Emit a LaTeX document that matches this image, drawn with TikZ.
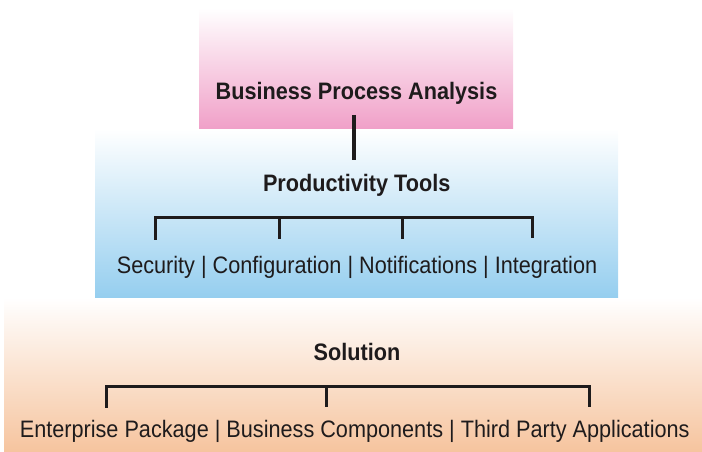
\documentclass[tikz,border=0pt]{standalone}
\usepackage{fontspec}
\setmainfont[FakeStretch=0.91]{Liberation Sans}
\definecolor{pinkC}{RGB}{240,160,200}
\definecolor{blueC}{RGB}{149,206,239}
\definecolor{orangeC}{RGB}{246,196,158}
\definecolor{inkC}{RGB}{30,27,28}
\pgfdeclareverticalshading{pinkfade}{100bp}{color(0bp)=(pinkC); color(25bp)=(pinkC); color(75bp)=(white); color(100bp)=(white)}
\pgfdeclareverticalshading{bluefade}{100bp}{color(0bp)=(blueC); color(25bp)=(blueC); color(75bp)=(white); color(100bp)=(white)}
\pgfdeclareverticalshading{orangefade}{100bp}{color(0bp)=(orangeC); color(25bp)=(orangeC); color(75bp)=(white); color(100bp)=(white)}
\begin{document}
\begin{tikzpicture}[x=1pt,y=1pt,
  lbl/.style={inner sep=0pt, anchor=base, text=inkC, font=\fontsize{23.8}{28}\selectfont},
  title/.style={lbl, font=\fontsize{23.8}{28}\selectfont\bfseries},
  link/.style={draw=inkC, line width=3pt, line cap=butt, line join=miter}]
\useasboundingbox (0,0) rectangle (702,452);
% panels
\shade[shading=orangefade] (4,0) rectangle (702,154.3);
\shade[shading=bluefade] (95,154.3) rectangle (618,323.5);
\shade[shading=pinkfade] (199,323.5) rectangle (513,444);
% texts
\node[title] (bpa) at (356.5,352) {Business Process Analysis};
\node[title] (pt) at (356.7,260.3) {Productivity Tools};
\node[lbl] (ptitems) at (357,178) {Security | Configuration | Notifications | Integration};
\node[title] (sol) at (357,91) {Solution};
\node[lbl] (solitems) at (354.7,14.3) {Enterprise Package | Business Components | Third Party Applications};
% connector from Business Process Analysis to Productivity Tools
\coordinate (bpaDown) at (353.8,337);
\coordinate (ptUp) at (353.8,292);
\draw[link, line width=3.5pt] (bpaDown) -- (ptUp);
% Productivity Tools bracket
\coordinate (pa1) at (155,212); \coordinate (pb1) at (155,234.7);
\coordinate (pa2) at (279,213); \coordinate (pb2) at (279,234.7);
\coordinate (pa3) at (402,213); \coordinate (pb3) at (402,234.7);
\coordinate (pa4) at (532,214); \coordinate (pb4) at (532,234.7);
\draw[link] (pa1) -- (pb1) -- (pb4) -- (pa4);
\draw[link] (pb2) -- (pa2);
\draw[link] (pb3) -- (pa3);
% Solution bracket
\coordinate (sa1) at (106.7,44); \coordinate (sb1) at (106.7,65.7);
\coordinate (sa2) at (326,45); \coordinate (sb2) at (326,65.7);
\coordinate (sa3) at (589.7,45); \coordinate (sb3) at (589.7,65.7);
\draw[link] (sa1) -- (sb1) -- (sb3) -- (sa3);
\draw[link] (sb2) -- (sa2);
\end{tikzpicture}
\end{document}
